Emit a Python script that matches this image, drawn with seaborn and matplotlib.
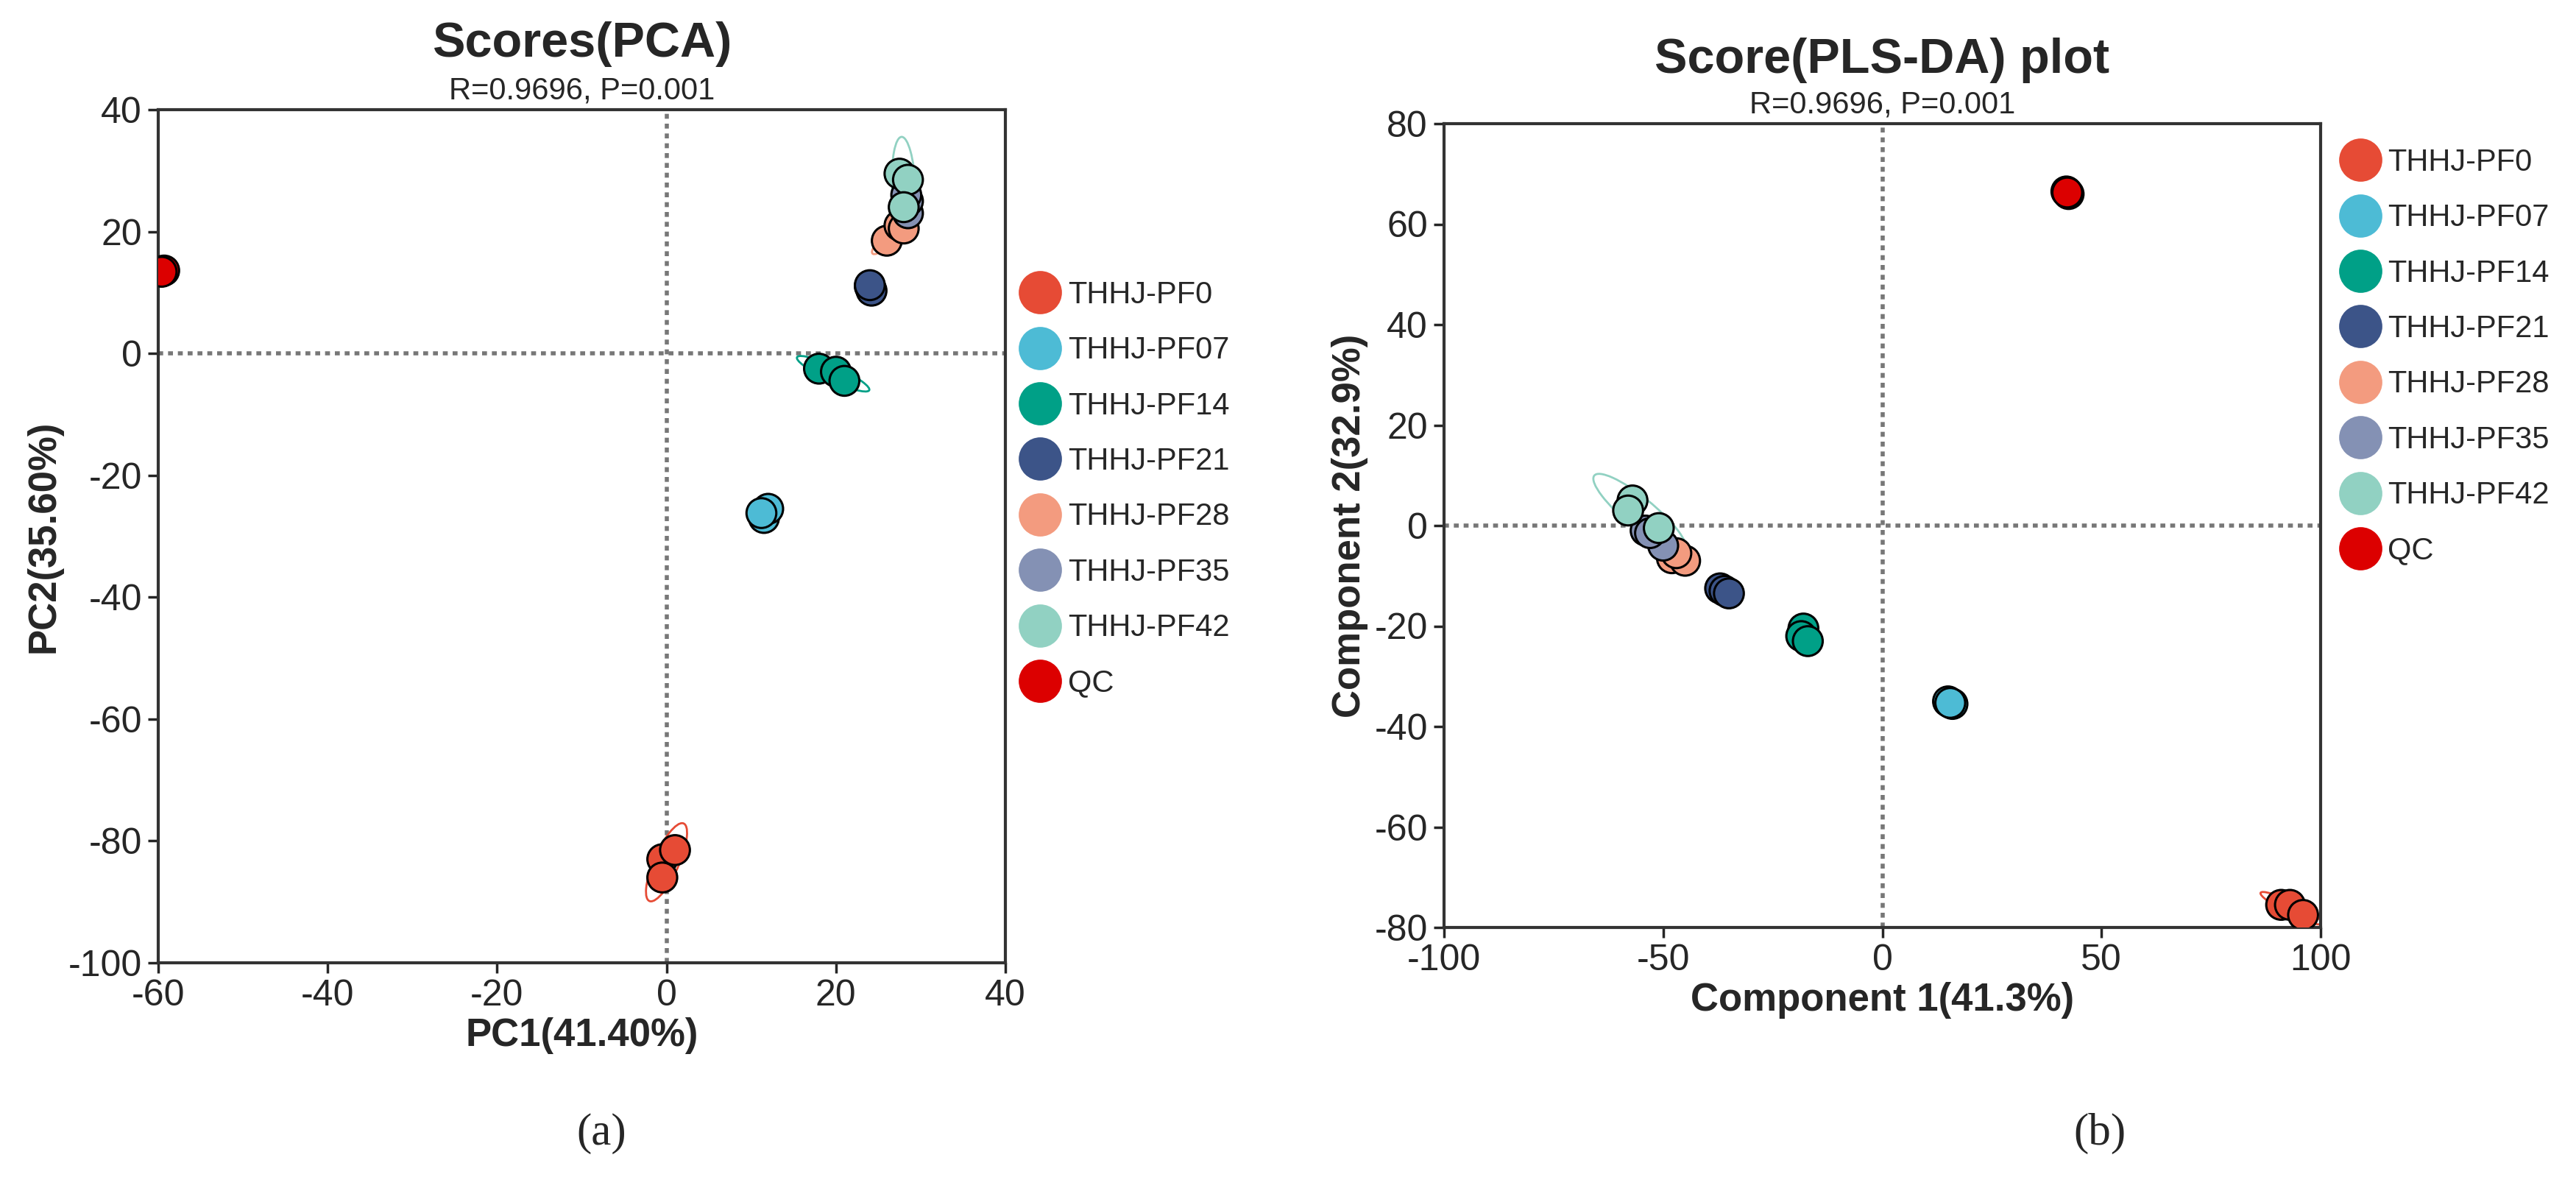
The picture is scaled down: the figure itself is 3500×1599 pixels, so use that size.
import numpy as np
import pandas as pd
import seaborn as sns
import matplotlib
matplotlib.use("Agg")
import matplotlib.pyplot as plt
from matplotlib.patches import Ellipse

groups = ["THHJ-PF0", "THHJ-PF07", "THHJ-PF14", "THHJ-PF21", "THHJ-PF28", "THHJ-PF35", "THHJ-PF42", "QC"]
colors = ["#E64B35", "#4DBBD5", "#00A087", "#3C5488", "#F39B7F", "#8491B4", "#91D1C2", "#DC0000"]

pca_x = {"THHJ-PF0": [-0.5, -0.5, 1.0], "THHJ-PF07": [11.5, 12.0, 11.2], "THHJ-PF14": [18, 20, 21],
         "THHJ-PF21": [24, 24.2, 24], "THHJ-PF28": [26, 27.5, 28], "THHJ-PF35": [28.5, 28.5, 28.3],
         "THHJ-PF42": [27.5, 28.5, 28], "QC": [-59.5, -59.3, -59.6]}
pca_y = {"THHJ-PF0": [-83, -86, -81.5], "THHJ-PF07": [-27, -25.5, -26.2], "THHJ-PF14": [-2.5, -3, -4.5],
         "THHJ-PF21": [11, 10.3, 11.2], "THHJ-PF28": [18.5, 21, 20.5], "THHJ-PF35": [23, 25, 26],
         "THHJ-PF42": [29.5, 28.5, 24], "QC": [13.5, 13.6, 13.4]}
pls_x = {"THHJ-PF0": [91, 93, 96], "THHJ-PF07": [15, 16, 15.5], "THHJ-PF14": [-18, -18.5, -17],
         "THHJ-PF21": [-37, -36, -35], "THHJ-PF28": [-48, -45, -47], "THHJ-PF35": [-54, -50, -53],
         "THHJ-PF42": [-57, -58, -51], "QC": [42, 42.5, 42.2]}
pls_y = {"THHJ-PF0": [-75.5, -75.5, -77.5], "THHJ-PF07": [-35, -35.5, -35.3], "THHJ-PF14": [-20.5, -22, -23],
         "THHJ-PF21": [-12.5, -13, -13.5], "THHJ-PF28": [-6.5, -7, -5.5], "THHJ-PF35": [-1, -4, -1.5],
         "THHJ-PF42": [5, 3, -0.5], "QC": [66.5, 66, 66.3]}

def frame(xd, yd):
    rows = []
    for g in groups:
        for a, b in zip(xd[g], yd[g]):
            rows.append((g, a, b))
    return pd.DataFrame(rows, columns=["group", "x", "y"])

sns.set_style("white")
plt.rcParams["font.family"] = ["Liberation Sans", "DejaVu Sans"]
W, H = 3500, 1599
fig = plt.figure(figsize=(35, 15.99), dpi=100)
axA = fig.add_axes([215/W, 1-1308/H, 1151/W, 1159/H])
axB = fig.add_axes([1962/W, 1-1260/H, 1191/W, 1092/H])

def ell(ax, df, pal):
    for g, c in zip(groups, pal):
        if g == "QC":
            continue
        d = df[df.group == g]
        cov = np.cov(d.x, d.y)
        vals, vecs = np.linalg.eigh(cov)
        ang = np.degrees(np.arctan2(vecs[1, 1], vecs[0, 1]))
        w, h = 2 * 2.8 * np.sqrt(np.maximum(vals[::-1], 0.05))
        ax.add_patch(Ellipse((d.x.mean(), d.y.mean()), w, h, angle=ang, fill=False, ec=c, lw=2))

def panel(ax, df, title, xlabel, ylabel, xlim, ylim, xt, yt, legx, legy):
    ax.axhline(0, color="#777777", ls=(0, (1.2, 1.2)), lw=4, zorder=0)
    ax.axvline(0, color="#777777", ls=(0, (1.2, 1.2)), lw=4, zorder=0)
    ell(ax, df, colors)
    sns.scatterplot(data=df, x="x", y="y", hue="group", hue_order=groups, palette=colors,
                    s=850, edgecolor="black", linewidth=2.2, ax=ax, legend=True, zorder=3)
    ax.set_xlim(*xlim); ax.set_ylim(*ylim)
    ax.set_xticks(xt); ax.set_yticks(yt)
    ax.set_xticklabels([str(v) for v in xt]); ax.set_yticklabels([str(v) for v in yt])
    ax.tick_params(labelsize=36, length=10, width=2.5, direction="out", bottom=True, left=True, pad=6)
    for s in ax.spines.values():
        s.set_linewidth(3); s.set_color("#333333")
    ax.set_xlabel(xlabel, fontsize=38, fontweight="bold", labelpad=4)
    ax.set_ylabel(ylabel, fontsize=38, fontweight="bold", labelpad=6)
    ax.text(0.5, 1.05, title, transform=ax.transAxes, ha="center", va="bottom", fontsize=48, fontweight="bold")
    ax.text(0.5, 1.005, "R=0.9696, P=0.001", transform=ax.transAxes, ha="center", va="bottom", fontsize=30)
    h, l = ax.get_legend_handles_labels()
    leg = ax.legend(h, l, loc="upper left", bbox_to_anchor=(legx, legy), frameon=False, fontsize=30,
                    markerscale=1.45, handletextpad=-0.1, labelspacing=0.85, borderaxespad=0, borderpad=0)
    for lh in leg.legend_handles:
        try:
            lh.set_markeredgecolor("none")
        except AttributeError:
            lh.set_edgecolor("none")

panel(axA, frame(pca_x, pca_y), "Scores(PCA)", "PC1(41.40%)", "PC2(35.60%)",
      (-60, 40), (-100, 40), list(range(-60, 41, 20)), list(range(-100, 41, 20)), 1.005, 0.80)
panel(axB, frame(pls_x, pls_y), "Score(PLS-DA) plot", "Component 1(41.3%)", "Component 2(32.9%)",
      (-100, 100), (-80, 80), list(range(-100, 101, 50)), list(range(-80, 81, 20)), 1.01, 0.97)

fig.text(817/W, 1-1540/H, "(a)", ha="center", va="center", fontsize=44, family="Liberation Serif")
fig.text(2853/W, 1-1540/H, "(b)", ha="center", va="center", fontsize=44, family="Liberation Serif")
fig.savefig("out.png", dpi=100, facecolor="white")
